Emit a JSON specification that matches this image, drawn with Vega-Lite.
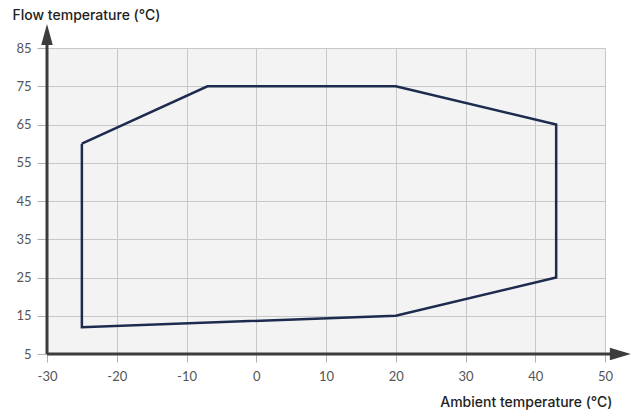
{
  "$schema": "https://vega.github.io/schema/vega-lite/v6.json",
  "width": 558,
  "height": 306,
  "autosize": {"type": "none"},
  "padding": {"left": 47, "top": 48, "right": 31, "bottom": 62},
  "background": "white",
  "config": {
    "view": {"fill": "#f3f3f3", "stroke": null},
    "font": "Lato",
    "axis": {
      "labelFont": "Lato",
      "labelFontSize": 13,
      "labelColor": "#555555",
      "labelOverlap": false,
      "labelFlush": false,
      "tickColor": "#b0b0b0",
      "gridColor": "#c8c8c8",
      "gridWidth": 1,
      "domain": false,
      "titleFont": "Inter",
      "titleFontSize": 14,
      "titleFontWeight": 500,
      "titleColor": "#222222"
    }
  },
  "datasets": {
    "envelope": [
      {"ambient": -25, "flow": 60, "order": 1},
      {"ambient": -7, "flow": 75, "order": 2},
      {"ambient": 20, "flow": 75, "order": 3},
      {"ambient": 43, "flow": 65, "order": 4},
      {"ambient": 43, "flow": 25, "order": 5},
      {"ambient": 20, "flow": 15, "order": 6},
      {"ambient": -25, "flow": 12, "order": 7},
      {"ambient": -25, "flow": 60, "order": 8}
    ],
    "axislines": [
      {"x": -30, "x2": 51, "y": 5, "y2": 5},
      {"x": -30, "x2": -30, "y": 5, "y2": 86}
    ],
    "arrows": [
      {"x": 52.2, "y": 5, "dir": "right"},
      {"x": -30, "y": 88.5, "dir": "up"}
    ]
  },
  "layer": [
    {
      "data": {"name": "envelope"},
      "mark": {"type": "line", "stroke": "#1d2b4f", "strokeWidth": 2.5, "clip": false},
      "encoding": {
        "x": {
          "field": "ambient",
          "type": "quantitative",
          "scale": {"domain": [-30, 50], "nice": false, "zero": false},
          "axis": {
            "values": [-30, -20, -10, 0, 10, 20, 30, 40, 50],
            "tickCount": 20,
            "labelExpr": "datum.value < 0 ? '-' + abs(datum.value) : '' + datum.value",
            "tickSize": 8,
            "labelPadding": 8,
            "title": "Ambient temperature (℃)",
            "titleAlign": "right",
            "titleBaseline": "middle",
            "titleX": 565,
            "titleY": 48
          }
        },
        "y": {
          "field": "flow",
          "type": "quantitative",
          "scale": {"domain": [5, 85], "nice": false, "zero": false},
          "axis": {
            "values": [5, 15, 25, 35, 45, 55, 65, 75, 85],
            "tickCount": 20,
            "tickSize": 10,
            "labelPadding": 6,
            "title": "Flow temperature (℃)",
            "titleAngle": 0,
            "titleAlign": "left",
            "titleBaseline": "middle",
            "titleX": -35,
            "titleY": -33
          }
        },
        "order": {"field": "order", "type": "quantitative"}
      }
    },
    {
      "data": {"name": "axislines"},
      "mark": {"type": "rule", "stroke": "#3c3c3c", "strokeWidth": 3, "clip": false},
      "encoding": {
        "x": {"field": "x", "type": "quantitative"},
        "x2": {"field": "x2"},
        "y": {"field": "y", "type": "quantitative"},
        "y2": {"field": "y2"}
      }
    },
    {
      "data": {"name": "arrows"},
      "mark": {"type": "point", "filled": true, "fill": "#3c3c3c", "stroke": null, "opacity": 1, "size": 441, "clip": false},
      "encoding": {
        "x": {"field": "x", "type": "quantitative"},
        "y": {"field": "y", "type": "quantitative"},
        "shape": {
          "field": "dir",
          "type": "nominal",
          "scale": {"domain": ["right", "up"], "range": ["M-1,-0.6L1,0L-1,0.6Z", "M-0.55,1L0,-1L0.55,1Z"]},
          "legend": null
        }
      }
    }
  ]
}
